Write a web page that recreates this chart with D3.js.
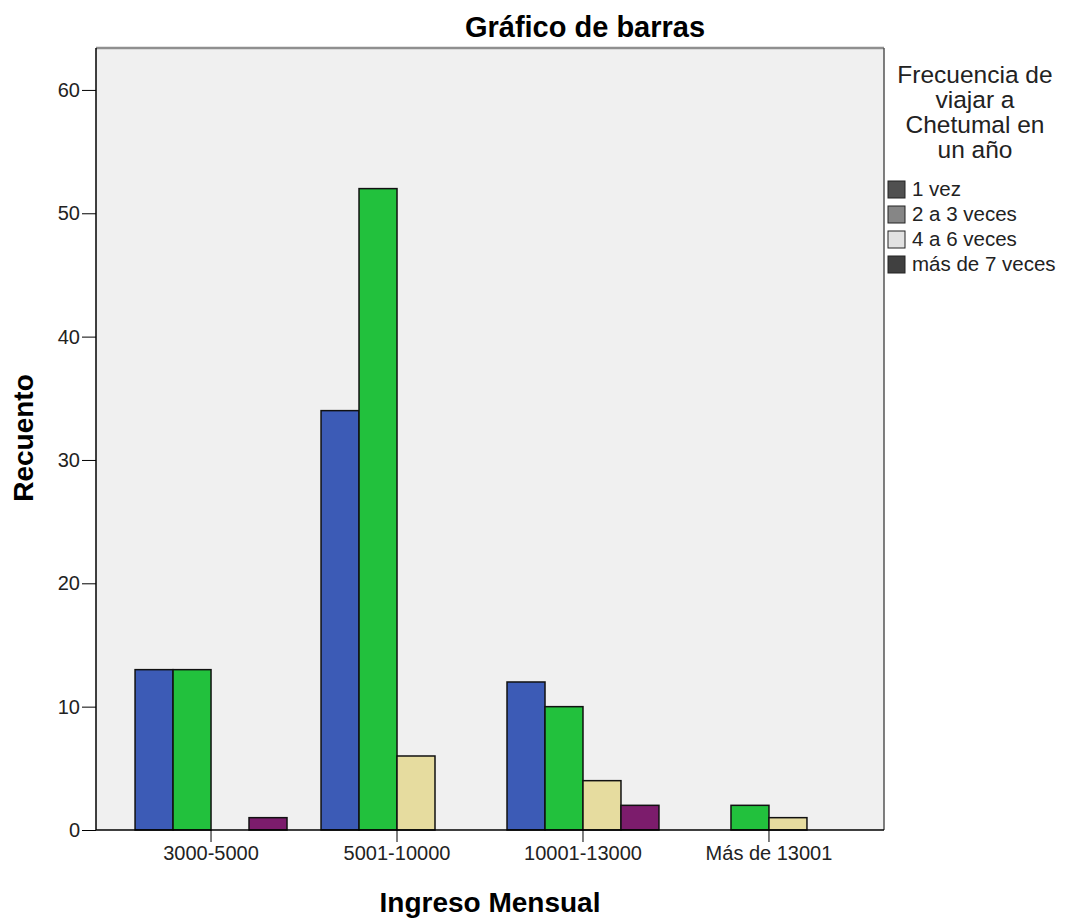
<!DOCTYPE html>
<html>
<head>
<meta charset="utf-8">
<script src="https://cdn.jsdelivr.net/npm/d3@7"></script>
<style>
  body { margin: 0; background: #fff; }
  text { font-family: 'Liberation Sans', Arial, sans-serif; }
</style>
</head>
<body>
<div id="chartDiv"></div>
<script>
// categories and counts
const categories = ['3000-5000', '5001-10000', '10001-13000', 'Más de 13001']
const seriesNames = ['1 vez', '2 a 3 veces', '4 a 6 veces', 'más de 7 veces']
const vez1 = [13, 34, 12, 0]
const veces2a3 = [13, 52, 10, 2]
const veces4a6 = [0, 6, 4, 1]
const veces7mas = [1, 0, 2, 0]
const yTicks = [0, 10, 20, 30, 40, 50, 60]

const barColors = ['#3c5bb6', '#22c13d', '#e6dc9f', '#7c1c6c']
const legendColors = ['#505050', '#868686', '#e2e2e2', '#404040']

const seriesValues = [vez1, veces2a3, veces4a6, veces7mas]
const data = categories.flatMap((cat, i) =>
  seriesNames.map((s, j) => ({ cat, series: s, value: seriesValues[j][i] }))
)

const W = 1065
const H = 918
const plot = { left: 96, right: 884, top: 48, bottom: 830 }

const svg = d3.select('#chartDiv').append('svg')
  .attr('width', W)
  .attr('height', H)

// plot background
svg.append('rect')
  .attr('x', plot.left)
  .attr('y', plot.top)
  .attr('width', plot.right - plot.left)
  .attr('height', plot.bottom - plot.top)
  .attr('fill', '#f0f0f0')

// scales
const y = d3.scaleLinear()
  .domain([0, 63.4])
  .range([plot.bottom, plot.top])

const x0 = d3.scaleBand()
  .domain(categories)
  .range([plot.left, plot.right])
  .paddingInner(0.183)
  .paddingOuter(0.21)

const x1 = d3.scaleBand()
  .domain(seriesNames)
  .range([0, x0.bandwidth()])

const color = d3.scaleOrdinal().domain(seriesNames).range(barColors)

// bars
svg.append('g')
  .selectAll('rect')
  .data(data.filter(d => d.value > 0))
  .enter()
  .append('rect')
  .attr('x', d => x0(d.cat) + x1(d.series))
  .attr('y', d => y(d.value))
  .attr('width', x1.bandwidth())
  .attr('height', d => y(0) - y(d.value))
  .attr('fill', d => color(d.series))
  .attr('stroke', '#111')
  .attr('stroke-width', 1.5)

// frame top / right
svg.append('line')
  .attr('x1', plot.left).attr('x2', plot.right)
  .attr('y1', plot.top).attr('y2', plot.top)
  .attr('stroke', '#8f8f8f').attr('stroke-width', 2.5)
svg.append('line')
  .attr('x1', plot.right).attr('x2', plot.right)
  .attr('y1', plot.top).attr('y2', plot.bottom)
  .attr('stroke', '#555').attr('stroke-width', 1.5)

// y axis
const yAxis = svg.append('g')
  .attr('transform', `translate(${plot.left},0)`)
  .call(d3.axisLeft(y).tickValues(yTicks).tickSize(14).tickPadding(2))
yAxis.select('.domain').attr('d', `M0,${plot.top}V${plot.bottom}`).attr('stroke', '#000').attr('stroke-width', 1.5)
yAxis.selectAll('text').style('font-size', '20px').attr('fill', '#222')

// x axis
const xAxis = svg.append('g')
  .attr('transform', `translate(0,${plot.bottom})`)
  .call(d3.axisBottom(x0).tickSize(12).tickPadding(4))
xAxis.select('.domain').attr('d', `M${plot.left},0H${plot.right}`).attr('stroke', '#000').attr('stroke-width', 1.5)
xAxis.selectAll('text').style('font-size', '20px').attr('fill', '#222')

// titles
svg.append('text')
  .attr('x', 585)
  .attr('y', 37)
  .attr('text-anchor', 'middle')
  .style('font-size', '29px')
  .style('font-weight', 'bold')
  .text('Gráfico de barras')

svg.append('text')
  .attr('x', (plot.left + plot.right) / 2)
  .attr('y', 912)
  .attr('text-anchor', 'middle')
  .style('font-size', '28px')
  .style('font-weight', 'bold')
  .text('Ingreso Mensual')

svg.append('text')
  .attr('transform', `translate(33,438) rotate(-90)`)
  .attr('text-anchor', 'middle')
  .style('font-size', '28px')
  .style('font-weight', 'bold')
  .text('Recuento')

// legend
const legendTitle = ['Frecuencia de', 'viajar a', 'Chetumal en', 'un año']
svg.append('text')
  .attr('x', 975)
  .attr('y', 83)
  .attr('text-anchor', 'middle')
  .style('font-size', '24.5px')
  .attr('fill', '#222')
  .selectAll('tspan')
  .data(legendTitle)
  .enter()
  .append('tspan')
  .attr('x', 975)
  .attr('dy', (d, i) => i === 0 ? 0 : 25)
  .text(d => d)

const legend = svg.append('g')
  .selectAll('g')
  .data(seriesNames)
  .enter()
  .append('g')
  .attr('transform', (d, i) => `translate(888,${181 + i * 25})`)

legend.append('rect')
  .attr('width', 17)
  .attr('height', 17)
  .attr('fill', (d, i) => legendColors[i])
  .attr('stroke', '#222')
  .attr('stroke-width', 1)

legend.append('text')
  .attr('x', 24)
  .attr('y', 15)
  .style('font-size', '20.5px')
  .attr('fill', '#222')
  .text(d => d)
</script>
</body>
</html>
